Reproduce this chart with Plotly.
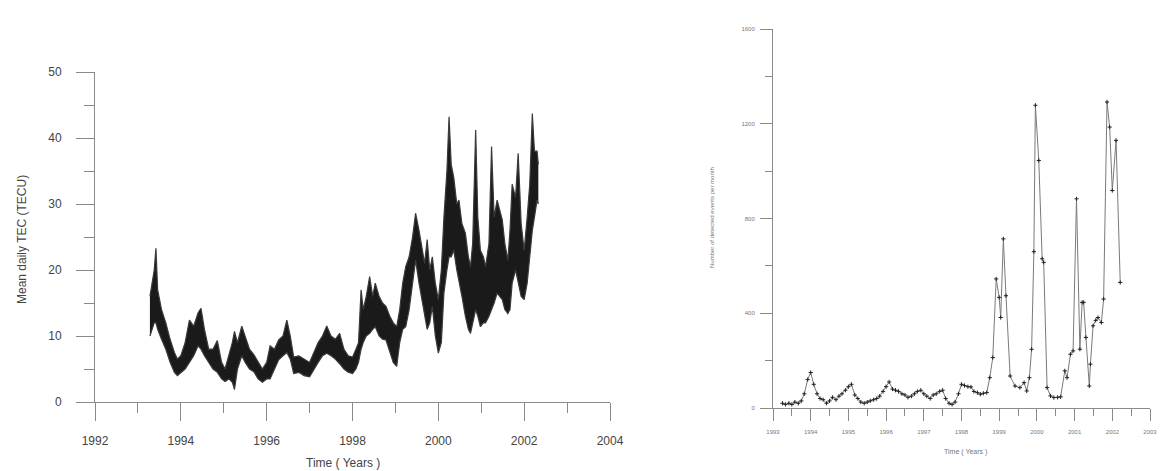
import plotly.graph_objects as go

# ---------------- Left panel: mean daily TEC envelope ----------------
tec_years = [1993.28, 1993.33, 1993.38, 1993.42, 1993.46, 1993.55, 1993.65, 1993.75, 1993.85, 1993.92,
             1994.00, 1994.10, 1994.20, 1994.30, 1994.40, 1994.47, 1994.55, 1994.65, 1994.75, 1994.85,
             1994.95, 1995.03, 1995.12, 1995.20, 1995.25, 1995.32, 1995.42, 1995.50, 1995.60, 1995.70,
             1995.80, 1995.90, 1996.00, 1996.08, 1996.18, 1996.28, 1996.38, 1996.47, 1996.55, 1996.63,
             1996.75, 1996.87, 1997.00, 1997.10, 1997.20, 1997.30, 1997.40, 1997.50, 1997.60, 1997.70,
             1997.80, 1997.90, 1998.00, 1998.08, 1998.14, 1998.20, 1998.25, 1998.32, 1998.40, 1998.47,
             1998.53, 1998.62, 1998.70, 1998.78, 1998.87, 1998.95, 1999.03, 1999.10, 1999.17, 1999.24,
             1999.32, 1999.40, 1999.47, 1999.55, 1999.62, 1999.68, 1999.74, 1999.80, 1999.86, 1999.93,
             2000.00, 2000.07, 2000.13, 2000.20, 2000.25, 2000.30, 2000.36, 2000.43, 2000.48, 2000.55,
             2000.63, 2000.70, 2000.75, 2000.80, 2000.87, 2000.92, 2000.98, 2001.05, 2001.10, 2001.18,
             2001.24, 2001.30, 2001.37, 2001.43, 2001.49, 2001.55, 2001.62, 2001.67, 2001.72, 2001.80,
             2001.86, 2001.93, 2002.00, 2002.07, 2002.13, 2002.19, 2002.24, 2002.30, 2002.33]
tec_low = [10, 11, 12, 12, 11, 9.5, 8, 6, 4.5, 4,
           4.5, 5, 6, 7, 8.5, 8, 7, 6, 5, 4.5,
           3.5, 3.1, 3.5, 3, 1.9, 5, 7, 6, 5, 4.6,
           3.5, 3, 3.5, 3.5, 5, 6.4, 7, 7.5, 6.5, 4.3,
           4.5, 4, 3.8, 5, 6, 7, 7.4, 7, 6.5, 5.8,
           5, 4.5, 4.3, 5, 6, 8, 9, 10, 10.4, 11,
           11.4, 10, 9.5, 9.4, 7.5, 6, 5.4, 9, 11, 11.4,
           14, 18, 21.5, 18, 15.5, 13, 11, 12, 14.5, 10,
           7.4, 9, 16.5, 20, 22, 22, 23, 20, 18.5, 16,
           13, 11, 10.4, 12, 14, 13, 11.4, 12, 12, 13,
           14, 15, 16.5, 16, 15.5, 14, 13.4, 14, 18, 20,
           18, 16, 15.5, 18, 22, 26, 28, 30.6, 30]
tec_high = [16, 18, 20, 23.3, 17, 14, 12, 9.5, 7.5, 6.5,
            7, 9, 12.4, 11.5, 13.5, 14.2, 11, 8, 8, 9.3,
            6, 5, 7, 9, 10.7, 9, 11.5, 10, 8, 7.2,
            6, 5, 6, 8.5, 8, 9.4, 10, 12.4, 10, 6.8,
            7, 6.5, 6, 7.5, 9, 10, 11.5, 10, 9.5, 10.4,
            8, 7, 6.8, 8, 9, 17, 14, 16, 19, 16,
            18, 16, 15, 14.5, 13, 12, 11.4, 14, 18, 20.5,
            22, 25, 28.6, 26, 23, 21, 24.6, 20, 22, 18,
            15.5, 20, 28, 35, 43.2, 36, 34, 30, 30.6, 27,
            25.6, 22, 20.5, 24, 41.2, 28, 23, 22, 20.5, 24,
            38.7, 28, 30.6, 29, 27.6, 24, 21.5, 26, 33, 31,
            37.7, 27, 23, 28, 33, 43.7, 38, 38, 36]

# ---------------- Right panel: detected events per month ----------------
ev_years = [1993.25, 1993.33, 1993.42, 1993.50, 1993.58, 1993.67, 1993.75, 1993.83, 1993.92,
            1994.00, 1994.08, 1994.17, 1994.25, 1994.33, 1994.42, 1994.50, 1994.58, 1994.67,
            1994.75, 1994.83, 1994.92, 1995.00, 1995.08, 1995.17, 1995.25, 1995.33, 1995.42,
            1995.50, 1995.58, 1995.67, 1995.75, 1995.83, 1995.92, 1996.00, 1996.08, 1996.17,
            1996.25, 1996.33, 1996.42, 1996.50, 1996.58, 1996.67, 1996.75, 1996.83, 1996.92,
            1997.00, 1997.08, 1997.17, 1997.25, 1997.33, 1997.42, 1997.50, 1997.58, 1997.67,
            1997.75, 1997.83, 1997.92, 1998.00, 1998.08, 1998.17, 1998.25, 1998.33, 1998.42,
            1998.50, 1998.58, 1998.67, 1998.75, 1998.83, 1998.92, 1999.00, 1999.04, 1999.11,
            1999.18, 1999.29, 1999.42, 1999.55, 1999.66, 1999.73, 1999.80, 1999.86, 1999.92,
            1999.96, 2000.05, 2000.14, 2000.18, 2000.27, 2000.36, 2000.45, 2000.55, 2000.63,
            2000.74, 2000.80, 2000.89, 2000.96, 2001.05, 2001.14, 2001.20, 2001.24, 2001.30,
            2001.39, 2001.42, 2001.49, 2001.56, 2001.62, 2001.71, 2001.77, 2001.86, 2001.93,
            2002.00, 2002.10, 2002.21]
ev_counts = [20, 15, 20, 15, 25, 20, 30, 60, 120,
             150, 100, 60, 40, 35, 20, 30, 45, 35,
             50, 60, 75, 90, 100, 55, 40, 25, 20,
             25, 30, 35, 40, 50, 70, 90, 110, 80,
             75, 70, 60, 55, 45, 50, 60, 70, 75,
             60, 50, 40, 55, 60, 70, 75, 40, 20,
             15, 25, 60, 100, 95, 90, 89, 70, 65,
             58, 62, 65, 128, 213, 545, 467, 382, 714,
             474, 135, 93, 86, 107, 72, 128, 248, 660,
             1278, 1045, 630, 615, 86, 51, 44, 45, 47,
             157, 128, 227, 241, 883, 248, 446, 446, 298,
             93, 185, 347, 370, 382, 361, 460, 1292, 1186,
             918, 1130, 530]

W, H = 1160, 471
def px_x(p):
    return p / W
def px_y(p):
    return 1 - p / H

AXC = "#8a8a8a"
FONT = "Liberation Sans, Arial, sans-serif"

fig = go.Figure()

band = "#1a1a1a"
fig.add_trace(go.Scatter(x=tec_years, y=tec_low, mode="lines", line=dict(color="#3a3a3a", width=1.2),
                         xaxis="x", yaxis="y", showlegend=False, hoverinfo="skip"))
fig.add_trace(go.Scatter(x=tec_years, y=tec_high, mode="lines", line=dict(color="#3a3a3a", width=1.2),
                         fill="tonexty", fillcolor=band,
                         xaxis="x", yaxis="y", showlegend=False))

fig.add_trace(go.Scatter(x=ev_years, y=ev_counts, mode="lines+markers",
                         line=dict(color="#7a7a7a", width=1),
                         marker=dict(color="#222", size=3, symbol="cross-thin",
                                     line=dict(color="#222", width=1)),
                         xaxis="x2", yaxis="y2", showlegend=False))

common = dict(showline=True, linecolor=AXC, linewidth=1, ticks="outside", tickcolor=AXC,
              tickwidth=1, showgrid=False, zeroline=False, mirror=False, automargin=False)

fig.update_layout(
    width=W, height=H,
    margin=dict(l=0, r=0, t=0, b=0, autoexpand=False),
    paper_bgcolor="white", plot_bgcolor="white",
    font=dict(family=FONT, color="#444"),
    xaxis=dict(domain=[px_x(95), px_x(610)], range=[1992, 2004], anchor="y",
               tickmode="linear", tick0=1992, dtick=2, ticklen=18, ticklabelstandoff=10,
               tickfont=dict(size=12, color="#444"),
               minor=dict(ticks="outside", dtick=1, tick0=1992, ticklen=10, tickcolor=AXC, tickwidth=1),
               **common),
    yaxis=dict(domain=[px_y(402), px_y(72)], range=[0, 50], anchor="x",
               tickmode="linear", tick0=0, dtick=10, ticklen=18, ticklabelstandoff=12,
               tickfont=dict(size=12, color="#444"),
               minor=dict(ticks="outside", dtick=5, tick0=0, ticklen=10, tickcolor=AXC, tickwidth=1),
               **common),
    xaxis2=dict(domain=[px_x(773), px_x(1150)], range=[1993, 2003], anchor="y2",
                tickmode="linear", tick0=1993, dtick=1, ticklen=12, ticklabelstandoff=6,
                tickfont=dict(size=6, color="#777"),
                minor=dict(ticks="outside", dtick=0.5, tick0=1993, ticklen=7, tickcolor=AXC, tickwidth=1),
                **common),
    yaxis2=dict(domain=[px_y(408), px_y(29)], range=[0, 1600], anchor="x2",
                tickmode="linear", tick0=0, dtick=400, ticklen=12, ticklabelstandoff=4,
                tickfont=dict(size=6, color="#777"),
                minor=dict(ticks="outside", dtick=200, tick0=0, ticklen=7, tickcolor=AXC, tickwidth=1),
                **common),
    annotations=[
        dict(text="Mean daily TEC (TECU)", x=px_x(22), y=px_y(240), xref="paper", yref="paper",
             xanchor="center", yanchor="middle",
             textangle=-90, showarrow=False, font=dict(size=12, color="#444")),
        dict(text="Time ( Years )", x=px_x(343), y=px_y(463), xref="paper", yref="paper",
             xanchor="center", yanchor="middle",
             showarrow=False, font=dict(size=12, color="#444")),
        dict(text="Number of detected events per month", x=px_x(712), y=px_y(218), xref="paper",
             xanchor="center", yanchor="middle",
             yref="paper", textangle=-90, showarrow=False, font=dict(size=6, color="#777")),
        dict(text="Time ( Years )", x=px_x(965), y=px_y(452), xref="paper", yref="paper",
             xanchor="center", yanchor="middle",
             showarrow=False, font=dict(size=7, color="#777")),
    ],
)

fig.write_html("out.html", config={"displayModeBar": False},
               post_script="document.body.style.margin='0';document.body.style.overflow='hidden';")
